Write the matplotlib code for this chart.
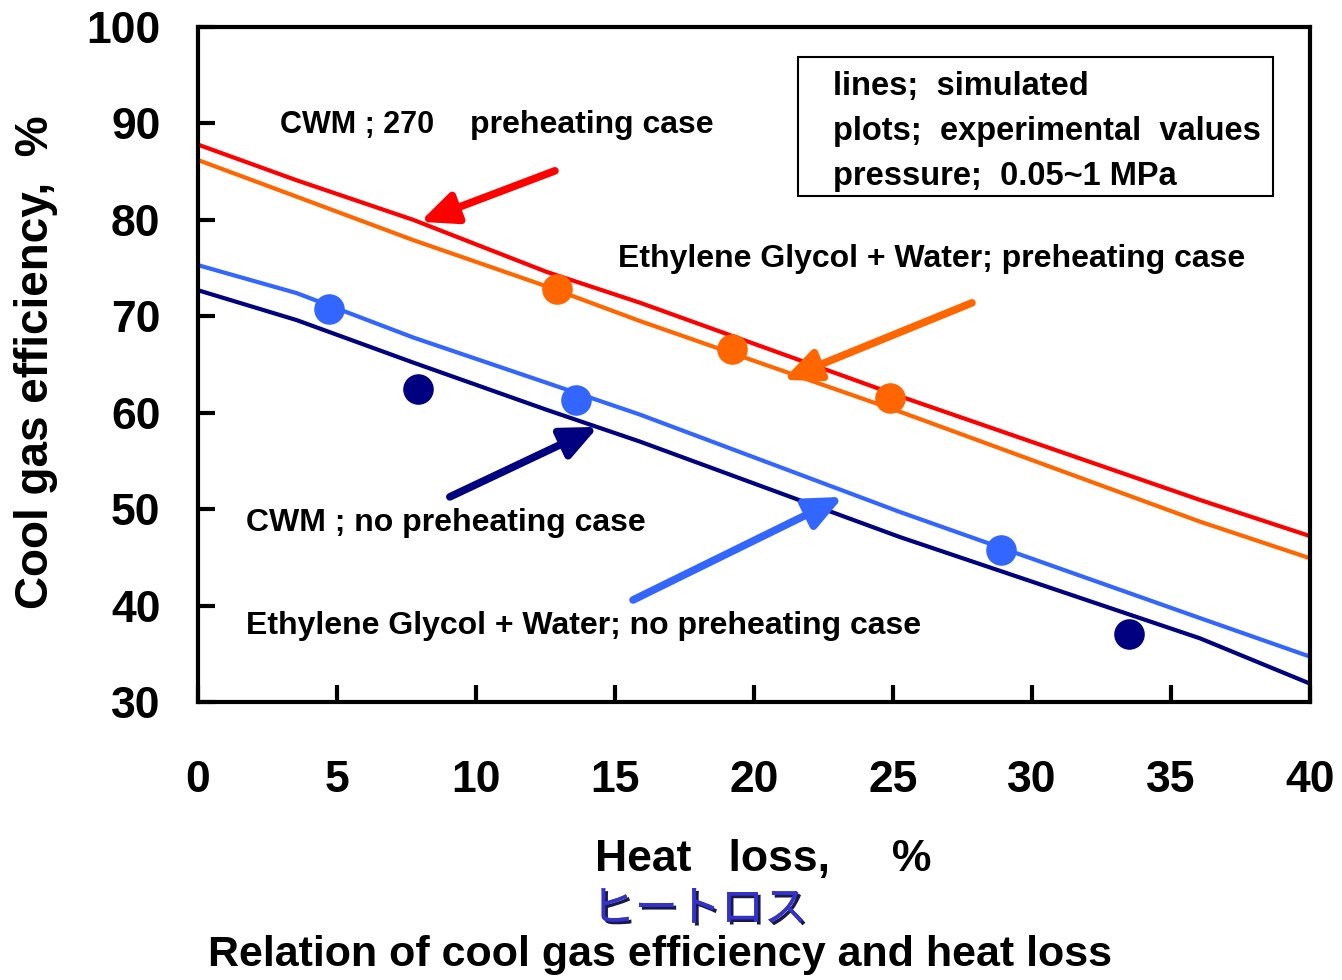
import matplotlib
matplotlib.use('Agg')
import matplotlib.pyplot as plt
import matplotlib.patheffects as pe

# simulated lines (heat loss %, cool gas efficiency %)
heat_loss = [0, 3.55, 7.74, 12.54, 15.9, 25.25, 36.04, 40]
cwm_pre = [87.8, 84.1, 80.0, 74.6, 71.4, 61.7, 50.95, 47.2]
eg_pre = [86.2, 82.4, 77.9, 73.1, 69.5, 60.1, 48.7, 44.9]
eg_nopre = [75.3, 72.4, 67.8, 63.1, 59.8, 49.7, 38.7, 34.7]
cwm_nopre = [72.7, 69.6, 65.2, 60.3, 57.0, 47.1, 36.6, 31.9]

# experimental plots
eg_pre_x = [12.9, 19.2, 24.9]
eg_pre_y = [72.8, 66.6, 61.5]
eg_nopre_x = [4.7, 13.6, 28.9]
eg_nopre_y = [70.8, 61.3, 45.8]
cwm_nopre_x = [7.9, 33.5]
cwm_nopre_y = [62.5, 37.0]

xticks = [0, 5, 10, 15, 20, 25, 30, 35, 40]
yticks = [30, 40, 50, 60, 70, 80, 90, 100]

RED = '#FF0000'
ORANGE = '#FF6600'
LBLUE = '#3366FF'
NAVY = '#000080'

plt.rcParams['font.family'] = ['Liberation Sans', 'DejaVu Sans']
plt.rcParams['font.weight'] = 'bold'

fig = plt.figure(figsize=(13.42, 9.8), dpi=100)
ax = fig.add_axes([0.1475, 0.2837, 0.8287, 0.6888])

ax.plot(heat_loss, cwm_pre, color=RED, lw=3)
ax.plot(heat_loss, eg_pre, color=ORANGE, lw=3)
ax.plot(heat_loss, eg_nopre, color=LBLUE, lw=3)
ax.plot(heat_loss, cwm_nopre, color=NAVY, lw=3)

ax.plot(eg_pre_x, eg_pre_y, 'o', color=ORANGE, ms=21, ls='none')
ax.plot(eg_nopre_x, eg_nopre_y, 'o', color=LBLUE, ms=21, ls='none')
ax.plot(cwm_nopre_x, cwm_nopre_y, 'o', color=NAVY, ms=21, ls='none')

ax.set_xlim(0, 40)
ax.set_ylim(30, 100)
ax.set_xticks(xticks)
ax.set_yticks(yticks)
ax.tick_params(direction='in', length=12, width=3, labelsize=32)
ax.tick_params(axis='x', pad=42)
ax.tick_params(axis='y', pad=27)
for s in ax.spines.values():
    s.set_linewidth(3)

def arrow(x0, y0, x1, y1, c):
    ax.annotate('', xy=(x1, y1), xytext=(x0, y0),
                arrowprops=dict(arrowstyle='-|>,head_length=0.9,head_width=0.4',
                                mutation_scale=24, lw=5.5, color=c,
                                shrinkA=0, shrinkB=0))

arrow(12.84, 85.08, 7.99, 79.79, RED)
arrow(27.84, 71.39, 21.04, 63.40, ORANGE)
arrow(9.06, 51.27, 14.39, 58.53, NAVY)
arrow(15.65, 40.58, 23.20, 51.27, LBLUE)

tkw = dict(fontsize=23, fontweight='bold', va='center', ha='left')
ax.text(2.95, 89.8, 'CWM ; 270', fontsize=22, fontweight='bold', va='center', ha='left')
ax.text(9.78, 89.8, 'preheating case', **tkw)
ax.text(15.1, 75.9, 'Ethylene Glycol + Water; preheating case', **tkw)
ax.text(1.73, 48.6, 'CWM ; no preheating case', **tkw)
ax.text(1.73, 37.9, 'Ethylene Glycol + Water; no preheating case', **tkw)

box = plt.Rectangle((0.5396, 0.75), 0.4271, 0.206, transform=ax.transAxes,
                    fill=False, lw=1.5, ec='black')
ax.add_patch(box)
bkw = dict(transform=ax.transAxes, fontsize=23.5, fontweight='bold', va='center', ha='left')
ax.text(0.571, 0.912, 'lines;  simulated', **bkw)
ax.text(0.571, 0.845, 'plots;  experimental  values', **bkw)
ax.text(0.571, 0.778, 'pressure;  0.05~1 MPa', **bkw)

fig.text(0.569, 0.1225, 'Heat   loss,     %', fontsize=32, fontweight='bold',
         ha='center', va='center')
fig.text(0.521, 0.072, 'ヒートロス', fontsize=31, color='#3333CC', fontweight='normal',
         family=['Noto Sans CJK JP', 'DejaVu Sans'], ha='center', va='center',
         path_effects=[pe.withSimplePatchShadow(offset=(2, -2), shadow_rgbFace='#000033', alpha=0.9),
                       pe.Normal()])
fig.text(0.492, 0.026, 'Relation of cool gas efficiency and heat loss',
         fontsize=31, fontweight='bold', ha='center', va='center')
fig.text(0.027, 0.63, 'Cool gas efficiency,  %', fontsize=33, fontweight='bold',
         rotation=90, ha='center', va='center')

fig.savefig('out.png', dpi=100)
